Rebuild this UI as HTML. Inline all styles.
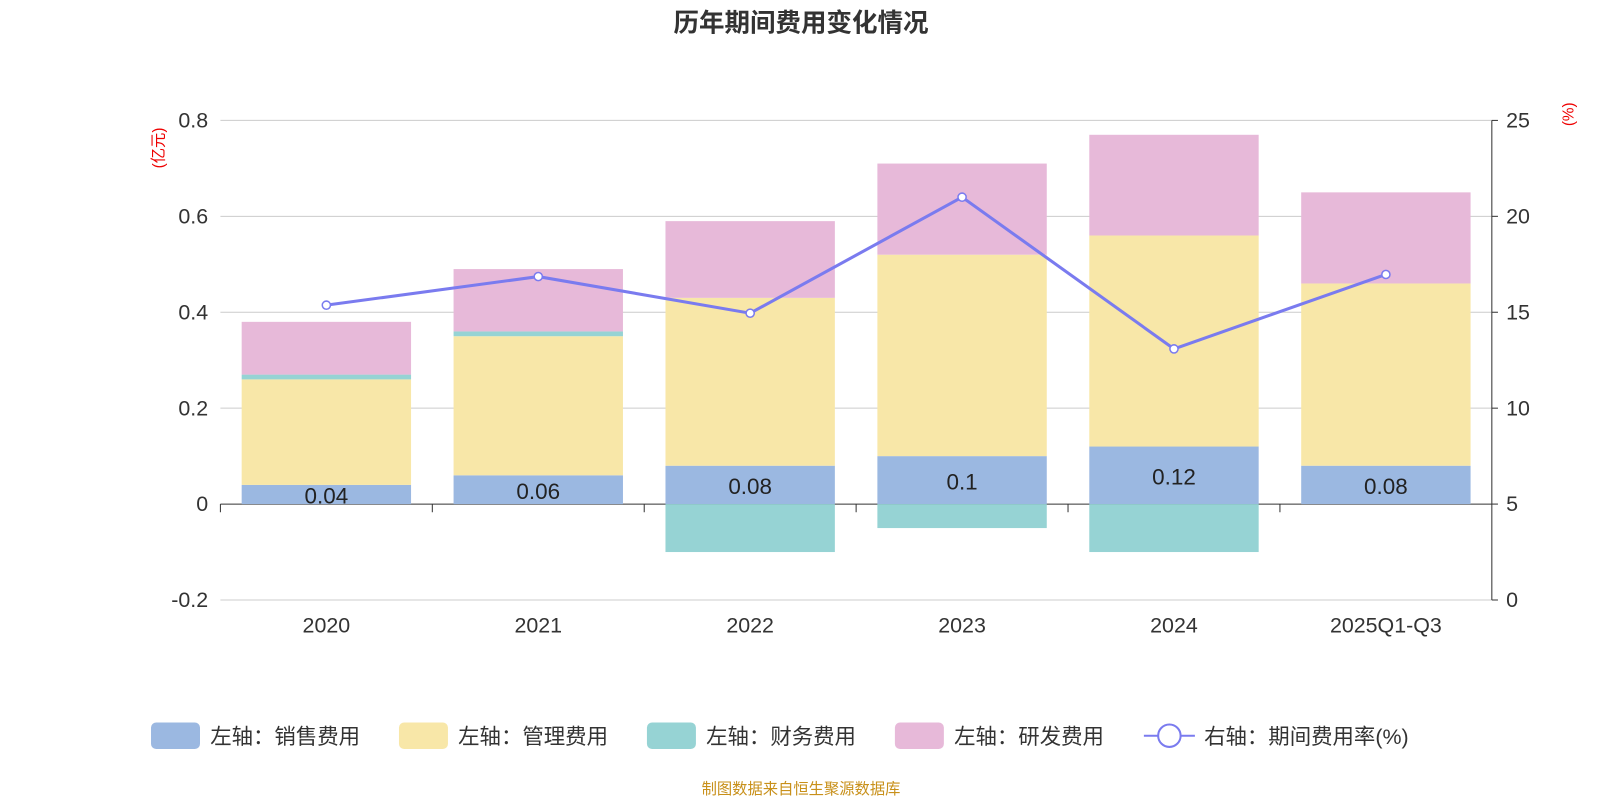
<!DOCTYPE html>
<html><head><meta charset="utf-8">
<style>
body{margin:0;background:#fff;font-family:"Liberation Sans","Noto Sans CJK SC",sans-serif;}
svg{display:block}
svg text{font-family:"Liberation Sans","Noto Sans CJK SC",sans-serif;}
</style></head>
<body>
<svg id="c" width="1600" height="800" viewBox="0 0 1568 784">
<text x="785" y="31" text-anchor="middle" font-size="25" font-weight="bold" fill="#333">历年期间费用变化情况</text>
<text transform="translate(160,145) rotate(-90)" text-anchor="middle" font-size="15" fill="#e00">(亿元)</text>
<text transform="translate(1542,112) rotate(-90)" text-anchor="middle" font-size="15" fill="#e00">(%)</text>
<g id="grid"></g><g id="bars"></g><g id="axes"></g><g id="line"></g>
<g id="legend" font-size="21" fill="#333"></g>
<text x="785" y="778" text-anchor="middle" font-size="15" fill="#c8901a">制图数据来自恒生聚源数据库</text>
</svg>
<script>
const categories=["2020","2021","2022","2023","2024","2025Q1-Q3"];
const sales=[0.04,0.06,0.08,0.1,0.12,0.08];
const mgmt=[0.22,0.29,0.35,0.42,0.44,0.38];
const fin=[0.01,0.01,-0.1,-0.05,-0.1,0];
const rnd=[0.11,0.13,0.16,0.19,0.21,0.19];
const rate=[15.37,16.86,14.95,21.0,13.09,16.97];
const leftTicks=[-0.2,0,0.2,0.4,0.6,0.8];
const rightTicks=[0,5,10,15,20,25];
const NS="http://www.w3.org/2000/svg";
const L=216,R=1462,T=118,B=588;
const yL=v=>B-(v+0.2)/1.0*(B-T);
const yR=v=>B-v/25*(B-T);
const bw=(R-L)/categories.length;
const xc=i=>L+bw*(i+0.5);
function mk(tag,attrs,parent,txt){const e=document.createElementNS(NS,tag);for(const k in attrs)e.setAttribute(k,attrs[k]);if(txt!==undefined)e.textContent=txt;document.getElementById(parent).appendChild(e);return e;}
leftTicks.forEach(t=>{
 const g=mk('line',{x1:L,x2:R,y1:yL(t),y2:yL(t),stroke:t===0?'#333':'#ccc','stroke-width':1},'grid');
 
 const tx=mk('text',{x:L-12,y:yL(t)+7,'text-anchor':'end','font-size':21,fill:'#333'},'axes',t===0?'0':String(t));
 
});
rightTicks.forEach(t=>{
 mk('line',{x1:R,x2:R+6,y1:yR(t),y2:yR(t),stroke:'#333'},'axes');
 const tx=mk('text',{x:R+14,y:yR(t)+7,'font-size':21,fill:'#333'},'axes',String(t));
 
});
mk('line',{x1:R,x2:R,y1:T,y2:B,stroke:'#333'},'axes');
const bar=(i,v0,v1,col,name)=>{const r=mk('rect',{x:xc(i)-83,width:166,y:Math.min(yL(v0),yL(v1)),height:Math.abs(yL(v1)-yL(v0)),fill:col},'bars');
 };
categories.forEach((c,i)=>{
 bar(i,0,sales[i],'#9bb8e1','bar-sales');
 bar(i,sales[i],sales[i]+mgmt[i],'#f8e7a8','bar-mgmt');
 let top=sales[i]+mgmt[i];
 if(fin[i]>=0){bar(i,top,top+fin[i],'#96d3d4','bar-finance');top+=fin[i];}
 else bar(i,0,fin[i],'#96d3d4','bar-finance');
 bar(i,top,top+rnd[i],'#e7b9d9','bar-rnd');
 const lb=mk('text',{x:xc(i),y:yL(sales[i]/2)+9,'text-anchor':'middle','font-size':22,fill:'#222'},'bars',String(sales[i]));
 
 const tx=mk('text',{x:xc(i),y:B+32,'text-anchor':'middle','font-size':21,fill:'#333'},'axes',c);
 
 mk('line',{x1:L+bw*i,x2:L+bw*i,y1:yL(0),y2:yL(0)+8,stroke:'#333'},'axes');
});
const pts=rate.map((v,i)=>xc(i)+','+yR(v)).join(' ');
const pl=mk('polyline',{points:pts,fill:'none',stroke:'#7a7bef','stroke-width':3},'line');

rate.forEach((v,i)=>{const c=mk('circle',{cx:xc(i),cy:yR(v),r:4,fill:'#fff',stroke:'#7a7bef','stroke-width':1.5},'line');
 });
const leg=[["左轴：销售费用","#9bb8e1",148],["左轴：管理费用","#f8e7a8",391],["左轴：财务费用","#96d3d4",634],["左轴：研发费用","#e7b9d9",877]];
leg.forEach(l=>{const r=mk('rect',{x:l[2],y:708,width:48,height:26,rx:5,fill:l[1]},'legend');
 
 const t=mk('text',{x:l[2]+58,y:729},'legend',l[0]);});
mk('line',{x1:1121,x2:1171,y1:721,y2:721,stroke:'#7a7bef','stroke-width':2},'legend');
const lc=mk('circle',{cx:1146,cy:721,r:11,fill:'#fff',stroke:'#7a7bef','stroke-width':2},'legend');

const lt=mk('text',{x:1180,y:729},'legend','右轴：期间费用率(%)');

</script>
</body></html>
